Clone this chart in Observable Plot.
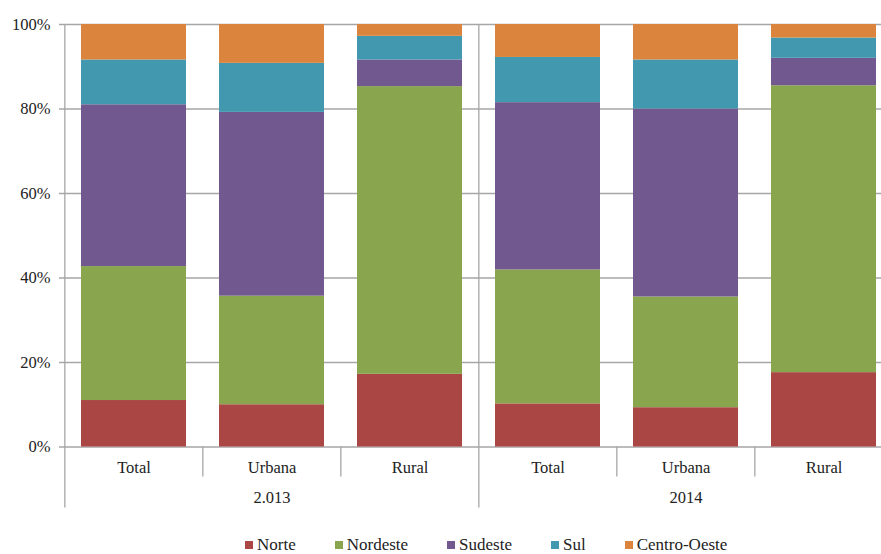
<!DOCTYPE html>
<html><head><meta charset="utf-8">
<script src="https://cdn.jsdelivr.net/npm/d3@7"></script>
<script src="https://cdn.jsdelivr.net/npm/@observablehq/plot@0.6"></script>
<style>
body{margin:0;overflow:hidden;background:#fff;font-family:"Liberation Serif","Times New Roman",serif;}
#chart{width:893px;}
#chart svg{display:block;max-width:none !important;width:893px !important;height:525px !important;font-family:"Liberation Serif","Times New Roman",serif !important;font-size:16.5px !important;}
#chart svg text{font-family:"Liberation Serif","Times New Roman",serif !important;}
#legend{display:flex;align-items:center;height:40px;line-height:18px;padding-left:245px;font-size:17px;color:#222;}
.item{display:flex;align-items:center;margin-right:39px;white-space:nowrap;}
.sw{width:8px;height:8px;margin-right:4px;}
</style></head><body>
<div id="chart"></div><div id="legend"></div>
<script>
const years = ["2.013", "2014"];
const areas = ["Total", "Urbana", "Rural"];
const regions = ["Norte", "Nordeste", "Sudeste", "Sul", "Centro-Oeste"];
const colors = ["#AA4643", "#89A54E", "#71588F", "#4198AF", "#DB843D"];
const yTicks = [0, 20, 40, 60, 80, 100];
// shares (%) per bar: 2013 Total, Urbana, Rural, 2014 Total, Urbana, Rural
const norte       = [11.0, 10.0, 17.2, 10.2,  9.3, 17.6];
const nordeste    = [31.7, 25.7, 68.1, 31.7, 26.2, 67.9];
const sudeste     = [38.3, 43.5,  6.3, 39.6, 44.5,  6.5];
const sul         = [10.6, 11.6,  5.6, 10.7, 11.6,  4.8];
const centroOeste = [ 8.4,  9.2,  2.8,  7.8,  8.4,  3.2];
const series = [norte, nordeste, sudeste, sul, centroOeste];

const keys = years.flatMap(y => areas.map(a => y + "|" + a));
const rows = [];
keys.forEach((k, i) => regions.forEach((r, j) => rows.push({key: k, region: r, value: series[j][i]})));

const W = 893, H = 525, mL = 63, mT = 24, mB = H - 446.5;
const step = (W - mL) / keys.length;
const plotH = H - mT - mB;
const grey = "#a6a6a6";
const shortSeps = [keys[1], keys[2], keys[4], keys[5]];
const longSeps = [keys[0], keys[3]];

const chart = Plot.plot({
  width: W, height: H,
  marginLeft: mL, marginRight: 0, marginTop: mT, marginBottom: mB,
  style: {fontFamily: "'Liberation Serif', 'Times New Roman', serif", fontSize: "16.5px", color: "#222", background: "white", maxWidth: "none"},
  x: {domain: keys, paddingInner: 0.24, paddingOuter: 0.12, tickSize: 0, tickPadding: 14,
      tickFormat: k => k.split("|")[1], label: null},
  y: {domain: [0, 100], ticks: yTicks, tickFormat: d => d + "%", tickSize: 0, tickPadding: 13, label: null},
  color: {domain: regions, range: colors},
  marks: [
    Plot.ruleY(yTicks, {stroke: grey, strokeWidth: 1.3, insetLeft: -4}),
    Plot.barY(rows, {x: "key", y: "value", fill: "region"}),
    Plot.ruleX(shortSeps, {x: d => d, dx: -step / 2, stroke: grey, strokeWidth: 1.3, insetTop: plotH, insetBottom: -30}),
    Plot.ruleX(longSeps, {x: d => d, dx: -step / 2, stroke: grey, strokeWidth: 1.3, insetTop: 0, insetBottom: -61}),
    Plot.text(years, {x: y => y + "|Urbana", text: d => d, frameAnchor: "bottom", dy: 50.5, lineAnchor: "middle", fill: "#222"})
  ]
});
document.getElementById("chart").appendChild(chart);

const legend = document.getElementById("legend");
regions.forEach((r, i) => {
  const it = document.createElement("div"); it.className = "item";
  const sw = document.createElement("span"); sw.className = "sw"; sw.style.background = colors[i];
  const tx = document.createElement("span"); tx.textContent = r;
  it.appendChild(sw); it.appendChild(tx); legend.appendChild(it);
});
</script>
</body></html>
